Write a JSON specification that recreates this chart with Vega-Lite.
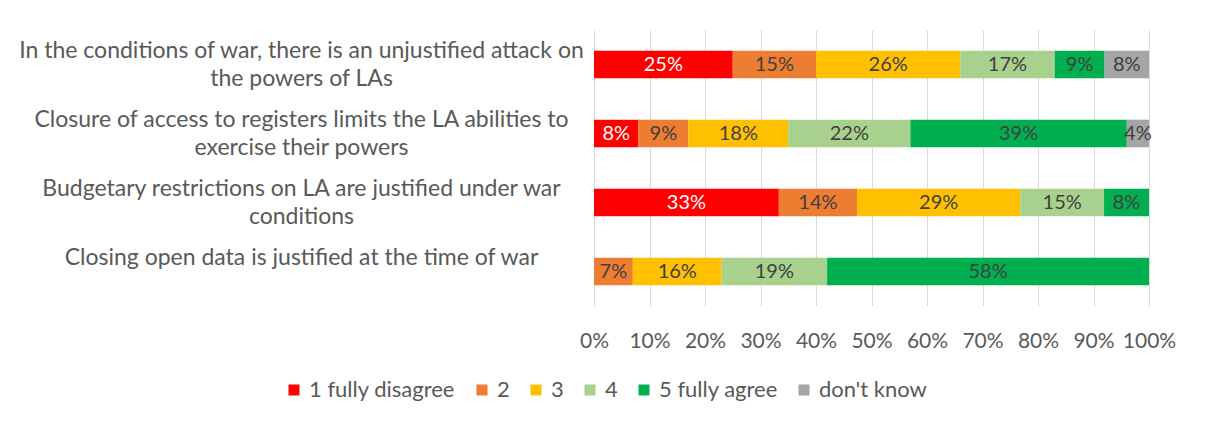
{
  "$schema": "https://vega.github.io/schema/vega-lite/v6.json",
  "width": 555,
  "height": 276,
  "autosize": "none",
  "padding": {"left": 594, "top": 30, "right": 56, "bottom": 121},
  "background": "white",
  "config": {"view": {"stroke": null}, "font": "Lato"},
  "data": {
    "values": [
      {"statement": "In the conditions of war, there is an unjustified attack on|the powers of LAs", "response": "1 fully disagree", "value": 25},
      {"statement": "In the conditions of war, there is an unjustified attack on|the powers of LAs", "response": "2", "value": 15},
      {"statement": "In the conditions of war, there is an unjustified attack on|the powers of LAs", "response": "3", "value": 26},
      {"statement": "In the conditions of war, there is an unjustified attack on|the powers of LAs", "response": "4", "value": 17},
      {"statement": "In the conditions of war, there is an unjustified attack on|the powers of LAs", "response": "5 fully agree", "value": 9},
      {"statement": "In the conditions of war, there is an unjustified attack on|the powers of LAs", "response": "don't know", "value": 8},
      {"statement": "Closure of access to registers limits the LA abilities to|exercise their powers", "response": "1 fully disagree", "value": 8},
      {"statement": "Closure of access to registers limits the LA abilities to|exercise their powers", "response": "2", "value": 9},
      {"statement": "Closure of access to registers limits the LA abilities to|exercise their powers", "response": "3", "value": 18},
      {"statement": "Closure of access to registers limits the LA abilities to|exercise their powers", "response": "4", "value": 22},
      {"statement": "Closure of access to registers limits the LA abilities to|exercise their powers", "response": "5 fully agree", "value": 39},
      {"statement": "Closure of access to registers limits the LA abilities to|exercise their powers", "response": "don't know", "value": 4},
      {"statement": "Budgetary restrictions on LA are justified under war|conditions", "response": "1 fully disagree", "value": 33.3},
      {"statement": "Budgetary restrictions on LA are justified under war|conditions", "response": "2", "value": 14.1},
      {"statement": "Budgetary restrictions on LA are justified under war|conditions", "response": "3", "value": 29.4},
      {"statement": "Budgetary restrictions on LA are justified under war|conditions", "response": "4", "value": 15.1},
      {"statement": "Budgetary restrictions on LA are justified under war|conditions", "response": "5 fully agree", "value": 8.1},
      {"statement": "Closing open data is justified at the time of war", "response": "2", "value": 7},
      {"statement": "Closing open data is justified at the time of war", "response": "3", "value": 16},
      {"statement": "Closing open data is justified at the time of war", "response": "4", "value": 19},
      {"statement": "Closing open data is justified at the time of war", "response": "5 fully agree", "value": 58}
    ]
  },
  "transform": [
    {"stack": "value", "groupby": ["statement"], "sort": [{"field": "response", "order": "ascending"}], "as": ["v0", "v1"], "offset": "normalize"},
    {"calculate": "(datum.v0 + datum.v1) / 2", "as": "mid"},
    {"calculate": "format(datum.value, '.0f') + '%'", "as": "label"}
  ],
  "encoding": {
    "y": {
      "field": "statement",
      "type": "nominal",
      "sort": null,
      "scale": {"paddingInner": 0.6, "paddingOuter": 0.3},
      "axis": {
        "title": null,
        "ticks": false,
        "domain": false,
        "grid": false,
        "labelAlign": "center",
        "labelBaseline": "middle",
        "labelPadding": 293,
        "labelOffset": -14,
        "labelFontSize": 23,
        "labelColor": "#595959",
        "labelLineHeight": 28,
        "labelLimit": 0,
        "labelExpr": "split(datum.label, '|')"
      }
    }
  },
  "layer": [
    {
      "mark": {"type": "bar"},
      "encoding": {
        "x": {
          "field": "v0",
          "type": "quantitative",
          "scale": {"domain": [0, 1], "nice": false},
          "axis": {
            "title": null,
            "format": "%",
            "values": [0, 0.1, 0.2, 0.3, 0.4, 0.5, 0.6, 0.7, 0.8, 0.9, 1],
            "grid": true,
            "gridColor": "#D9D9D9",
            "gridWidth": 1,
            "ticks": false,
            "domain": false,
            "labelFontSize": 21,
            "labelColor": "#595959",
            "labelPadding": 24,
            "labelFlush": false
          }
        },
        "x2": {"field": "v1"},
        "color": {
          "field": "response",
          "type": "nominal",
          "scale": {
            "domain": ["1 fully disagree", "2", "3", "4", "5 fully agree", "don't know"],
            "range": ["#FF0000", "#ED7D31", "#FFC000", "#A9D18E", "#00B050", "#A5A5A5"]
          },
          "legend": {
            "title": null,
            "orient": "none",
            "direction": "horizontal",
            "legendX": -311,
            "legendY": 349,
            "symbolType": "square",
            "symbolSize": 121,
            "symbolStrokeWidth": 0,
            "labelFontSize": 22,
            "labelColor": "#595959",
            "columnPadding": 15,
            "labelOffset": 4
          }
        }
      }
    },
    {
      "mark": {"type": "text", "fontSize": 20, "baseline": "middle", "align": "center"},
      "encoding": {
        "x": {"field": "mid", "type": "quantitative"},
        "text": {"field": "label"},
        "color": {
          "condition": {"test": "datum.response === '1 fully disagree'", "value": "#FFFFFF"},
          "value": "#404040"
        }
      }
    }
  ]
}
